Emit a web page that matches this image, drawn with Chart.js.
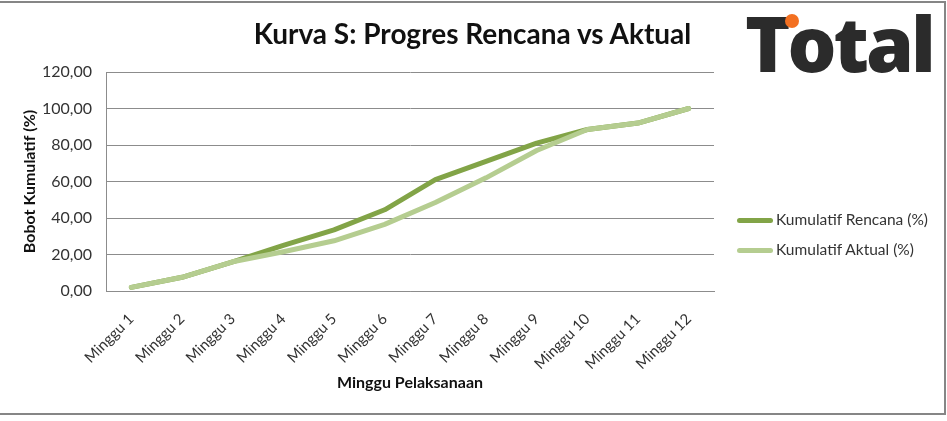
<!DOCTYPE html>
<html>
<head>
<meta charset="utf-8">
<script src="https://cdn.jsdelivr.net/npm/chart.js@4"></script>
<style>
  html, body { margin: 0; padding: 0; background: #fff; }
  #wrap { position: relative; width: 947px; height: 421px; overflow: hidden; font-family: Lato, "Liberation Sans", sans-serif; }
  #frame { position: absolute; left: -2px; top: 1px; width: 944px; height: 410px; border: 2px solid #868686; }
  #chart { position: absolute; left: 0; top: 0; }
  #title { position: absolute; left: 0; width: 947px; top: 16px; text-align: center; font-weight: bold; font-size: 28px; color: #111; }
  #title span { position: relative; left: -1px; }
  #logo { position: absolute; left: 745px; top: -7px; font-family: "Open Sans", sans-serif; font-weight: 800; font-size: 77px; letter-spacing: -3px; color: #2b2b2b; line-height: 100px; }
  #dot { position: absolute; left: 785px; top: 14px; width: 14px; height: 14px; border-radius: 50%; background: #f37021; }
  .leg { position: absolute; left: 737px; font-size: 15.5px; color: #333; height: 18px; line-height: 18px; }
  .leg i { display: inline-block; width: 36px; height: 5px; border-radius: 3px; vertical-align: middle; margin-right: 3px; position: relative; top: -1px; }
</style>
</head>
<body>
<div id="wrap">
  <div id="frame"></div>
  <canvas id="chart" width="947" height="421"></canvas>
  <div id="title"><span>Kurva S: Progres Rencana vs Aktual</span></div>
  <div id="logo">Total</div>
  <div id="dot"></div>
  <div id="legend"></div>
</div>
<script>
const weeks = ["Minggu 1", "Minggu 2", "Minggu 3", "Minggu 4", "Minggu 5", "Minggu 6",
               "Minggu 7", "Minggu 8", "Minggu 9", "Minggu 10", "Minggu 11", "Minggu 12"];
const rencana = [2, 7.5, 16, 25, 33.5, 44.5, 61, 71, 81, 88.5, 92, 100];
const aktual  = [2, 7.5, 16, 21.5, 27.5, 36.5, 48.5, 62, 77, 88.5, 92, 100];
const yTicks = [0, 20, 40, 60, 80, 100, 120];

const darkGreen = "#82a447";
const lightGreen = "#b5cd90";
const gridGrey = "#8c8c8c";
const font = "Lato, 'Liberation Sans', sans-serif";

const series = [
  { label: "Kumulatif Rencana (%)", data: rencana, color: darkGreen, order: 2 },
  { label: "Kumulatif Aktual (%)", data: aktual, color: lightGreen, order: 1 }
];

// legend in html, same look as the excel one
const legend = document.getElementById("legend");
series.forEach((s, i) => {
  const el = document.createElement("div");
  el.className = "leg";
  el.style.top = (210 + i * 30) + "px";
  el.innerHTML = '<i style="background:' + s.color + '"></i>' + s.label;
  legend.appendChild(el);
});

const ctx = document.getElementById("chart").getContext("2d");
new Chart(ctx, {
  type: "line",
  data: {
    labels: weeks,
    datasets: series.map(s => ({
      label: s.label,
      data: s.data,
      borderColor: s.color,
      backgroundColor: s.color,
      borderWidth: 5,
      borderCapStyle: "round",
      borderJoinStyle: "round",
      pointRadius: 0,
      tension: 0,
      order: s.order
    }))
  },
  options: {
    responsive: false,
    animation: false,
    layout: { padding: { left: 16, right: 233, top: 72, bottom: 25 } },
    plugins: {
      legend: { display: false },
      tooltip: { enabled: false }
    },
    scales: {
      x: {
        offset: true,
        grid: { display: false, drawTicks: false },
        border: { display: true, color: gridGrey, width: 1 },
        ticks: {
          minRotation: 45, maxRotation: 45, padding: 19,
          color: "#333", font: { family: font, size: 15 }
        },
        title: {
          display: true, text: "Minggu Pelaksanaan", color: "#111",
          font: { family: font, size: 16, weight: "bold" }
        },
        afterFit: scale => { scale.height = 105; }
      },
      y: {
        min: 0, max: 120,
        afterBuildTicks: scale => { scale.ticks = yTicks.map(v => ({ value: v })); },
        grid: { color: gridGrey, lineWidth: 1, drawTicks: false },
        border: { display: true, color: gridGrey, width: 1 },
        ticks: {
          padding: 14, color: "#333", font: { family: font, size: 16 },
          callback: v => v.toFixed(2).replace(".", ",")
        },
        title: {
          display: true, text: "Bobot Kumulatif (%)", color: "#111",
          font: { family: font, size: 16, weight: "bold" }
        },
        afterFit: scale => { scale.width = 90; }
      }
    }
  }
});
</script>
</body>
</html>
